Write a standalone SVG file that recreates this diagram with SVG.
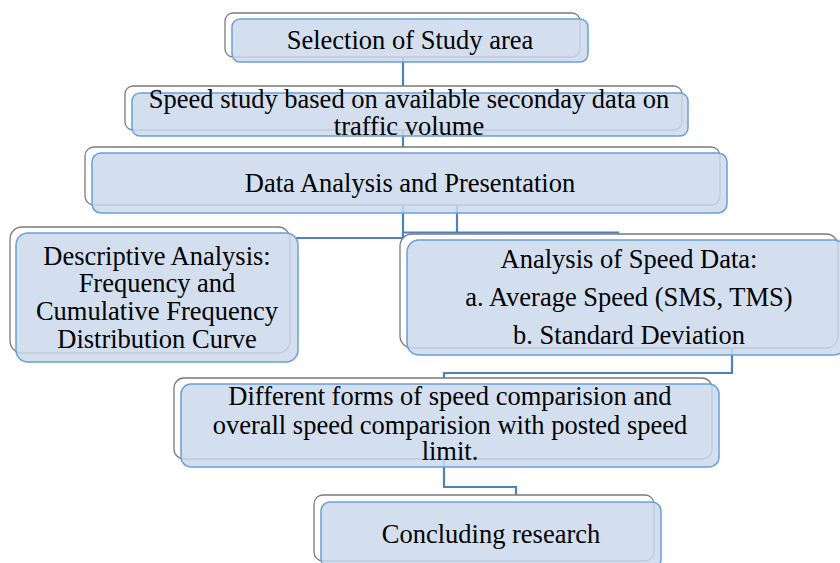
<svg xmlns="http://www.w3.org/2000/svg" width="840" height="563" viewBox="0 0 840 563">
  <style>
    .back { fill: #ffffff; stroke: #7a7a7a; stroke-width: 1.3; }
    .front { fill: #cbd9ec; fill-opacity: 0.85; stroke: #6b9fd6; stroke-width: 1.5; }
    .link { fill: none; stroke: #4f81bd; stroke-width: 2.2; }
    text { font-family: "Liberation Serif", "Times New Roman", serif; font-size: 26.5px; fill: #000; text-anchor: middle; }
  </style>

  <!-- connectors sit beneath the boxes -->
  <g id="connectors">
    <path class="link" d="M403 40 V93"/>
    <path class="link" d="M403 120 V153"/>
    <path class="link" d="M403 195 V238 H296"/>
    <path class="link" d="M457 195 V232.5 M403 232.5 H618 V240"/>
    <path class="link" d="M732 340 V373 H444 V384"/>
    <path class="link" d="M444 450 V487 H516 V502"/>
  </g>

  <g id="selection">
    <rect class="back" x="225" y="13" width="355" height="44" rx="8"/>
    <rect class="front" x="232" y="19" width="356" height="43" rx="8"/>
    <text x="410" y="49">Selection of Study area</text>
  </g>

  <g id="speed-study">
    <rect class="back" x="125" y="86" width="557" height="44" rx="8"/>
    <rect class="front" x="132" y="93" width="556" height="43" rx="8"/>
    <text x="409" y="108">Speed study based on available seconday data on</text>
    <text x="409" y="135">traffic volume</text>
  </g>

  <g id="data-analysis">
    <rect class="back" x="85" y="147" width="635" height="58" rx="9"/>
    <rect class="front" x="92" y="153" width="635" height="60" rx="9"/>
    <text x="410" y="192">Data Analysis and Presentation</text>
  </g>

  <g id="descriptive">
    <rect class="back" x="10" y="227" width="280" height="126" rx="12"/>
    <rect class="front" x="16" y="233" width="282" height="129" rx="12"/>
    <text x="157" y="265">Descriptive Analysis:</text>
    <text x="157" y="292">Frequency and</text>
    <text x="157" y="320">Cumulative Frequency</text>
    <text x="157" y="348">Distribution Curve</text>
  </g>

  <g id="speed-data">
    <rect class="back" x="400" y="234" width="438" height="114" rx="12"/>
    <rect class="front" x="407" y="240" width="439" height="115" rx="12"/>
    <text x="629" y="268">Analysis of Speed Data:</text>
    <text x="629" y="306">a. Average Speed (SMS, TMS)</text>
    <text x="629" y="344">b. Standard Deviation</text>
  </g>

  <g id="comparison">
    <rect class="back" x="174" y="378" width="538" height="81" rx="10"/>
    <rect class="front" x="181" y="384" width="538" height="83" rx="10"/>
    <text x="450" y="405">Different forms of speed comparision and</text>
    <text x="450" y="434">overall speed comparision with posted speed</text>
    <text x="450" y="460">limit.</text>
  </g>

  <g id="concluding">
    <rect class="back" x="314" y="495" width="340" height="66" rx="9"/>
    <rect class="front" x="321" y="502" width="340" height="66" rx="9"/>
    <text x="491" y="543">Concluding research</text>
  </g>
</svg>
